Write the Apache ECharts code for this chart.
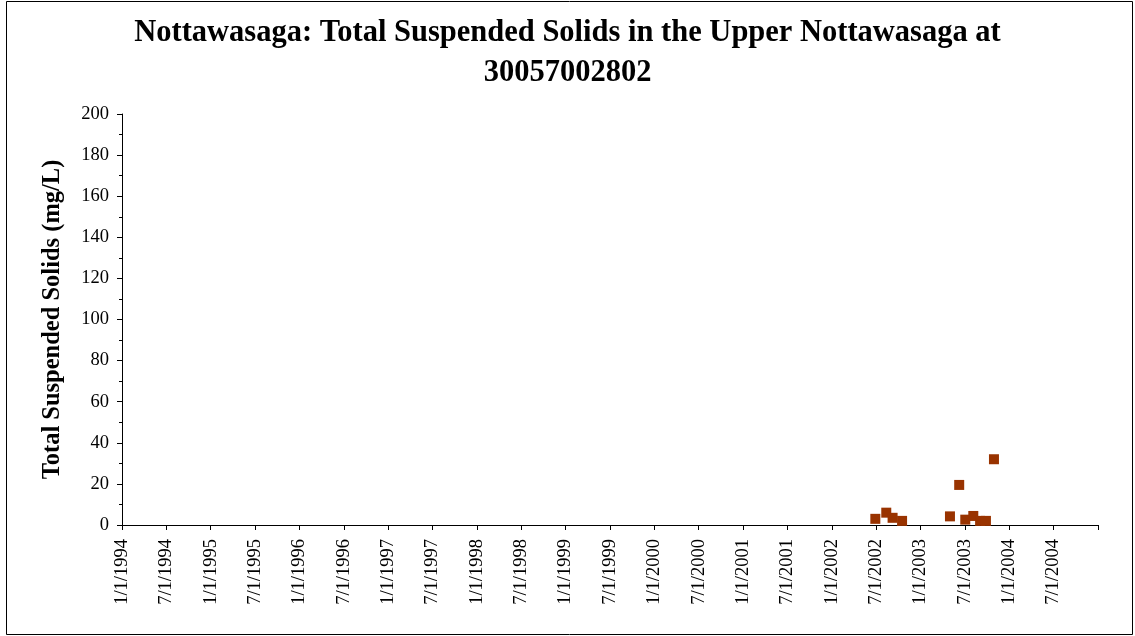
<!DOCTYPE html>
<html>
<head>
<meta charset="utf-8">
<script src="https://cdn.jsdelivr.net/npm/echarts@6/dist/echarts.min.js"></script>
<style>
    html, body { margin: 0; padding: 0; background: #fff; }
    #chart { width: 1135px; height: 636px; }
</style>
</head>
<body>
<div id="chart"></div>
<script>
    // sample dates and TSS values (mg/L)
    let sampleDates = ['2002-06-27', '2002-08-11', '2002-09-06', '2002-10-15', '2003-04-30', '2003-06-07',
        '2003-07-02', '2003-08-04', '2003-09-01', '2003-09-25', '2003-10-28'];
    let tssValues = [3, 6, 3.5, 2, 4.2, 19.5, 2.6, 4.4, 2, 2, 32];
    // x tick labels, one per half year, the last tick has no label
    let tickLabels = ['1/1/1994', '7/1/1994', '1/1/1995', '7/1/1995', '1/1/1996', '7/1/1996', '1/1/1997', '7/1/1997',
        '1/1/1998', '7/1/1998', '1/1/1999', '7/1/1999', '1/1/2000', '7/1/2000', '1/1/2001', '7/1/2001',
        '1/1/2002', '7/1/2002', '1/1/2003', '7/1/2003', '1/1/2004', '7/1/2004', ''];

    let halfYear = 182.5;
    let origin = Date.UTC(1994, 0, 1);
    function daysFromOrigin(s) {
        let p = s.split('-');
        return (Date.UTC(+p[0], p[1] - 1, +p[2]) - origin) / 86400000;
    }
    let points = sampleDates.map(function (d, i) {
        return [daysFromOrigin(d), tssValues[i]];
    });

    let serif = '"Liberation Serif", "Times New Roman", serif';
    let chart = echarts.init(document.getElementById('chart'));
    let option = {
        backgroundColor: '#fff',
        animation: false,
        title: {
            text: 'Nottawasaga: Total Suspended Solids in the Upper Nottawasaga at\n30057002802',
            left: 'center',
            top: 8,
            textStyle: {
                fontFamily: serif,
                fontWeight: 'bold',
                fontSize: 30.5,
                lineHeight: 40,
                color: '#000'
            }
        },
        graphic: [{
            type: 'rect',
            shape: { x: 6.5, y: 1.5, width: 1126, height: 633 },
            style: { fill: null, stroke: '#000', lineWidth: 1 },
            silent: true
        }],
        grid: {
            left: 122,
            right: 37,
            top: 114,
            bottom: 111
        },
        xAxis: {
            type: 'value',
            min: 0,
            max: halfYear * (tickLabels.length - 1),
            interval: halfYear,
            axisLine: { onZero: false, lineStyle: { color: '#000', width: 1 } },
            axisTick: { show: true, length: 5, lineStyle: { color: '#000' } },
            splitLine: { show: false },
            axisLabel: {
                rotate: 90,
                margin: 14,
                fontFamily: serif,
                fontSize: 18.5,
                color: '#000',
                showMaxLabel: true,
                formatter: function (val) {
                    return tickLabels[Math.round(val / halfYear)] || '';
                }
            }
        },
        yAxis: {
            type: 'value',
            min: 0,
            max: 200,
            interval: 20,
            name: 'Total Suspended Solids (mg/L)',
            nameLocation: 'middle',
            nameGap: 57,
            nameTextStyle: {
                fontFamily: serif,
                fontWeight: 'bold',
                fontSize: 24.5,
                color: '#000'
            },
            axisLine: { show: true, lineStyle: { color: '#000', width: 1 } },
            axisTick: { show: true, length: 5, lineStyle: { color: '#000' } },
            minorTick: { show: true, splitNumber: 2, length: 3, lineStyle: { color: '#000' } },
            splitLine: { show: false },
            axisLabel: {
                margin: 13,
                fontFamily: serif,
                fontSize: 18.5,
                color: '#000'
            }
        },
        series: [{
            name: 'TSS',
            type: 'scatter',
            symbol: 'rect',
            symbolSize: 10,
            itemStyle: { color: '#993300', opacity: 1 },
            data: points
        }]
    };
    chart.setOption(option);
</script>
</body>
</html>
